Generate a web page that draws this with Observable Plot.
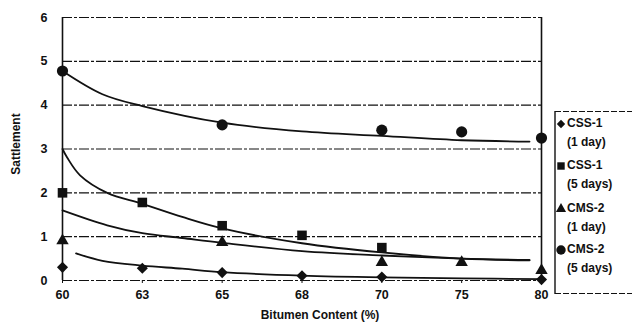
<!DOCTYPE html>
<html>
<head>
<meta charset="utf-8">
<script src="https://cdn.jsdelivr.net/npm/d3@7"></script>
<script src="https://cdn.jsdelivr.net/npm/@observablehq/plot@0.6"></script>
<style>
  html, body { margin: 0; padding: 0; background: #fff; overflow: hidden; }
  #wrap { position: relative; width: 632px; height: 326px; overflow: hidden; font-family: "Liberation Sans", Arial, sans-serif; }
  #legend { position: absolute; left: 554px; top: 110px; }
</style>
</head>
<body>
<div id="wrap"><svg id="legend" width="78" height="186"></svg></div>
<script>
// Categories (equally spaced on the x axis)
const xLabels = ["60", "63", "65", "68", "70", "75", "80"];
const yTicks = [0, 1, 2, 3, 4, 5, 6];

// Measured points: [category index, settlement]
const css1Day1 = [[0, 0.30], [1, 0.28], [2, 0.18], [3, 0.11], [4, 0.08], [6, 0.02]];
const css1Day5 = [[0, 2.0], [1, 1.78], [2, 1.25], [3, 1.03], [4, 0.75]];
const cms2Day1 = [[0, 0.91], [2, 0.87], [4, 0.41], [5, 0.41], [6, 0.23]];
const cms2Day5 = [[0, 4.78], [2, 3.55], [4, 3.43], [5, 3.39], [6, 3.25]];

// Fitted trend curves: [category index, settlement]
const css1Day1Fit = [[0.17, 0.62], [0.5, 0.45], [1, 0.34], [1.5, 0.27], [2, 0.19], [3, 0.11], [4, 0.07], [5, 0.05], [6, 0.03]];
const css1Day5Fit = [[0, 3.0], [0.06, 2.8], [0.22, 2.4], [0.56, 2.0], [1, 1.75], [1.5, 1.45], [2, 1.19], [3, 0.85], [4, 0.64], [5, 0.5], [5.85, 0.46]];
const cms2Day1Fit = [[0, 1.6], [0.56, 1.26], [1, 1.08], [1.5, 0.97], [2, 0.86], [3, 0.67], [4, 0.57], [5, 0.5], [5.85, 0.47]];
const cms2Day5Fit = [[0, 4.78], [0.5, 4.25], [1, 3.98], [2, 3.6], [3, 3.4], [4, 3.3], [5, 3.2], [5.85, 3.17]];

const seriesNames = ["CSS-1", "CSS-1", "CMS-2", "CMS-2"];
const seriesSub = ["(1 day)", "(5 days)", "(1 day)", "(5 days)"];
const seriesSymbols = ["diamond2", "square", "triangle", "circle"];
const seriesR = [5, 5.4, 4.6, 5.6];

const pts = [css1Day1, css1Day5, cms2Day1, cms2Day5];
const fits = [css1Day1Fit, css1Day5Fit, cms2Day1Fit, cms2Day5Fit];

const ink = "#111";
const font = "Liberation Sans, Arial, sans-serif";
const marks = [
  Plot.ruleY(yTicks, {stroke: ink, strokeWidth: 1.2, strokeDasharray: "10,2,3,2"}),
  Plot.ruleX([0, 6], {stroke: ink, strokeWidth: 1.6}),
  Plot.axisX({
    ticks: d3.range(xLabels.length), tickFormat: i => xLabels[i],
    tickSize: 3, tickPadding: 7, label: null, fontWeight: "bold", fontSize: 12.5
  }),
  Plot.axisY({ticks: yTicks, tickFormat: d3.format("d"), tickSize: 0, tickPadding: 15, label: null, fontWeight: "bold", fontSize: 12.5}),
  Plot.text(["Bitumen Content (%)"], {frameAnchor: "bottom", textAnchor: "middle", dy: 38, dx: 18, fontWeight: "bold", fontSize: 12}),
  Plot.text(["Sattlement"], {frameAnchor: "left", textAnchor: "middle", dx: -46, dy: -5, rotate: -90, fontWeight: "bold", fontSize: 12})
];
fits.forEach(f => marks.push(Plot.line(f, {x: d => d[0], y: d => d[1], curve: "catmull-rom", stroke: ink, strokeWidth: 1.8})));
pts.forEach((p, i) => marks.push(Plot.dot(p, {x: d => d[0], y: d => d[1], symbol: () => seriesSymbols[i], r: seriesR[i], fill: ink, stroke: "none"})));

const chart = Plot.plot({
  width: 632, height: 326,
  marginLeft: 62, marginRight: 91, marginTop: 17, marginBottom: 46,
  x: {domain: [0, 6]},
  y: {domain: [0, 6]},
  style: {fontFamily: font, color: ink, background: "#fff"},
  marks
});
chart.style.display = "block";
document.getElementById("wrap").prepend(chart);

// Legend (drawn in its own small SVG, box open on the right)
const lg = d3.select("#legend");
lg.append("line").attr("x1", 1).attr("x2", 1).attr("y1", 1).attr("y2", 184).attr("stroke", ink).attr("stroke-width", 1.4);
lg.append("line").attr("x1", 1).attr("x2", 78).attr("y1", 1.5).attr("y2", 1.5).attr("stroke", ink).attr("stroke-width", 1.2).attr("stroke-dasharray", "6,2");
lg.append("line").attr("x1", 1).attr("x2", 78).attr("y1", 183.5).attr("y2", 183.5).attr("stroke", ink).attr("stroke-width", 1.2).attr("stroke-dasharray", "6,2");
const symMap = {diamond2: d3.symbolDiamond2, square: d3.symbolSquare, triangle: d3.symbolTriangle, circle: d3.symbolCircle};
const symSize = [45, 55, 45, 70];
const tops = [17, 59, 102, 143];
seriesNames.forEach((name, i) => {
  const g = lg.append("g").attr("transform", `translate(0,${tops[i]})`);
  g.append("path").attr("transform", "translate(7,-3)").attr("d", d3.symbol().type(symMap[seriesSymbols[i]]).size(symSize[i])()).attr("fill", ink);
  g.append("text").attr("x", 13).attr("y", 0).text(name)
    .attr("font-family", font).attr("font-weight", "bold").attr("font-size", 12).attr("fill", ink);
  g.append("text").attr("x", 13).attr("y", 19).text(seriesSub[i])
    .attr("font-family", font).attr("font-weight", "bold").attr("font-size", 12).attr("fill", ink);
});
</script>
</body>
</html>
